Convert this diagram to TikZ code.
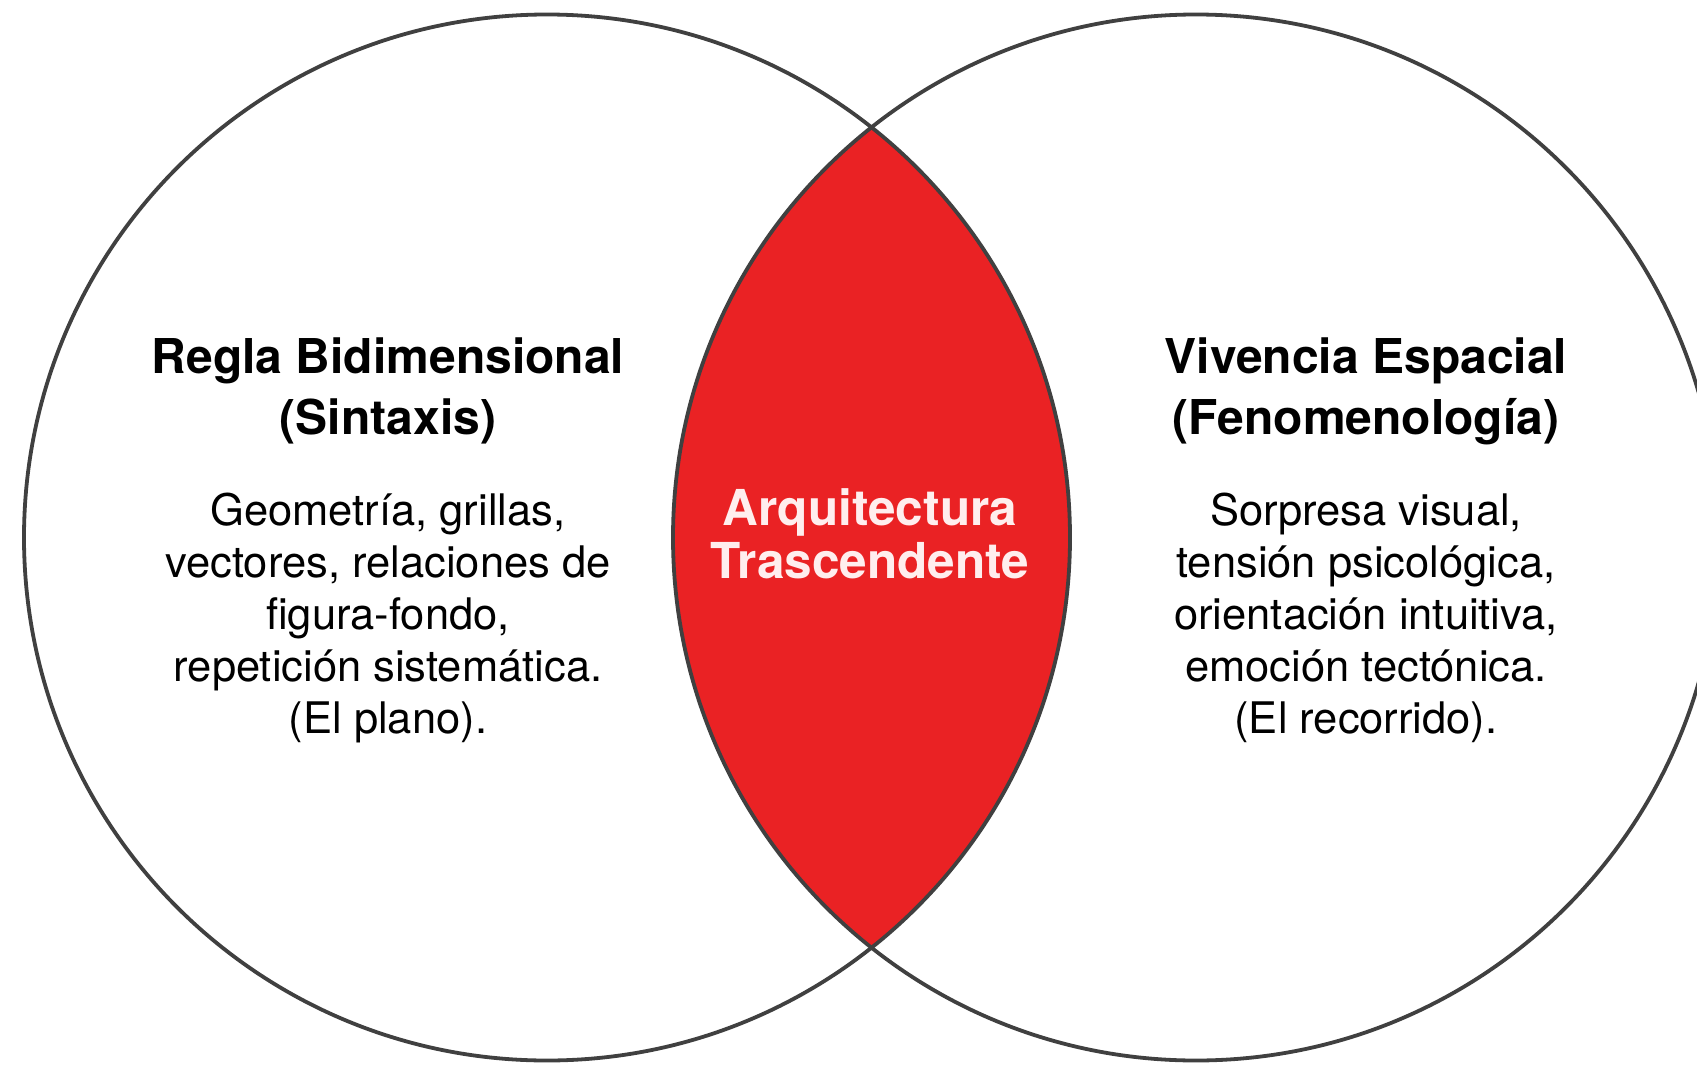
\documentclass[tikz,border=0pt]{standalone}
\usepackage{fontspec}
\setmainfont{TeX Gyre Heros}
\definecolor{lensred}{RGB}{234,34,36}
\definecolor{ringgray}{RGB}{64,64,64}
\definecolor{lenstext}{RGB}{255,238,238}
\begin{document}
\begin{tikzpicture}[x=1pt,y=-1pt,
  ring/.style={draw=ringgray,line width=3.8pt},
  titletext/.style={align=center,font=\fontsize{48}{61}\selectfont\bfseries,anchor=base,inner sep=0pt},
  bodytext/.style={align=center,font=\fontsize{43.5}{52}\selectfont,anchor=base,inner sep=0pt},
  lenslabel/.style={align=center,font=\fontsize{49.5}{53}\selectfont\bfseries,text=lenstext,anchor=base,inner sep=0pt}]
\useasboundingbox (0,0) rectangle (1697,1065);
\fill[white] (0,0) rectangle (1697,1065);
\coordinate (cl) at (547,537.5);
\coordinate (cr) at (1196,537.5);
\begin{scope}
  \clip (cl) circle[radius=523];
  \fill[lensred] (cr) circle[radius=523];
\end{scope}
\draw[ring] (cl) circle[radius=523];
\draw[ring] (cr) circle[radius=523];

\node[titletext] (lt) at (388,434) {Regla Bidimensional\\(Sintaxis)};
\node[bodytext] (lb) at (388,733) {Geometría, grillas,\\vectores, relaciones de\\figura-fondo,\\repetición sistemática.\\(El plano).};
\node[titletext] (rt) at (1366,434) {Vivencia Espacial\\(Fenomenología)};
\node[bodytext] (rb) at (1366,733) {Sorpresa visual,\\tensión psicológica,\\orientación intuitiva,\\emoción tectónica.\\(El recorrido).};
\node[lenslabel] (ct) at (870,578) {Arquitectura\\Trascendente};
\end{tikzpicture}
\end{document}
